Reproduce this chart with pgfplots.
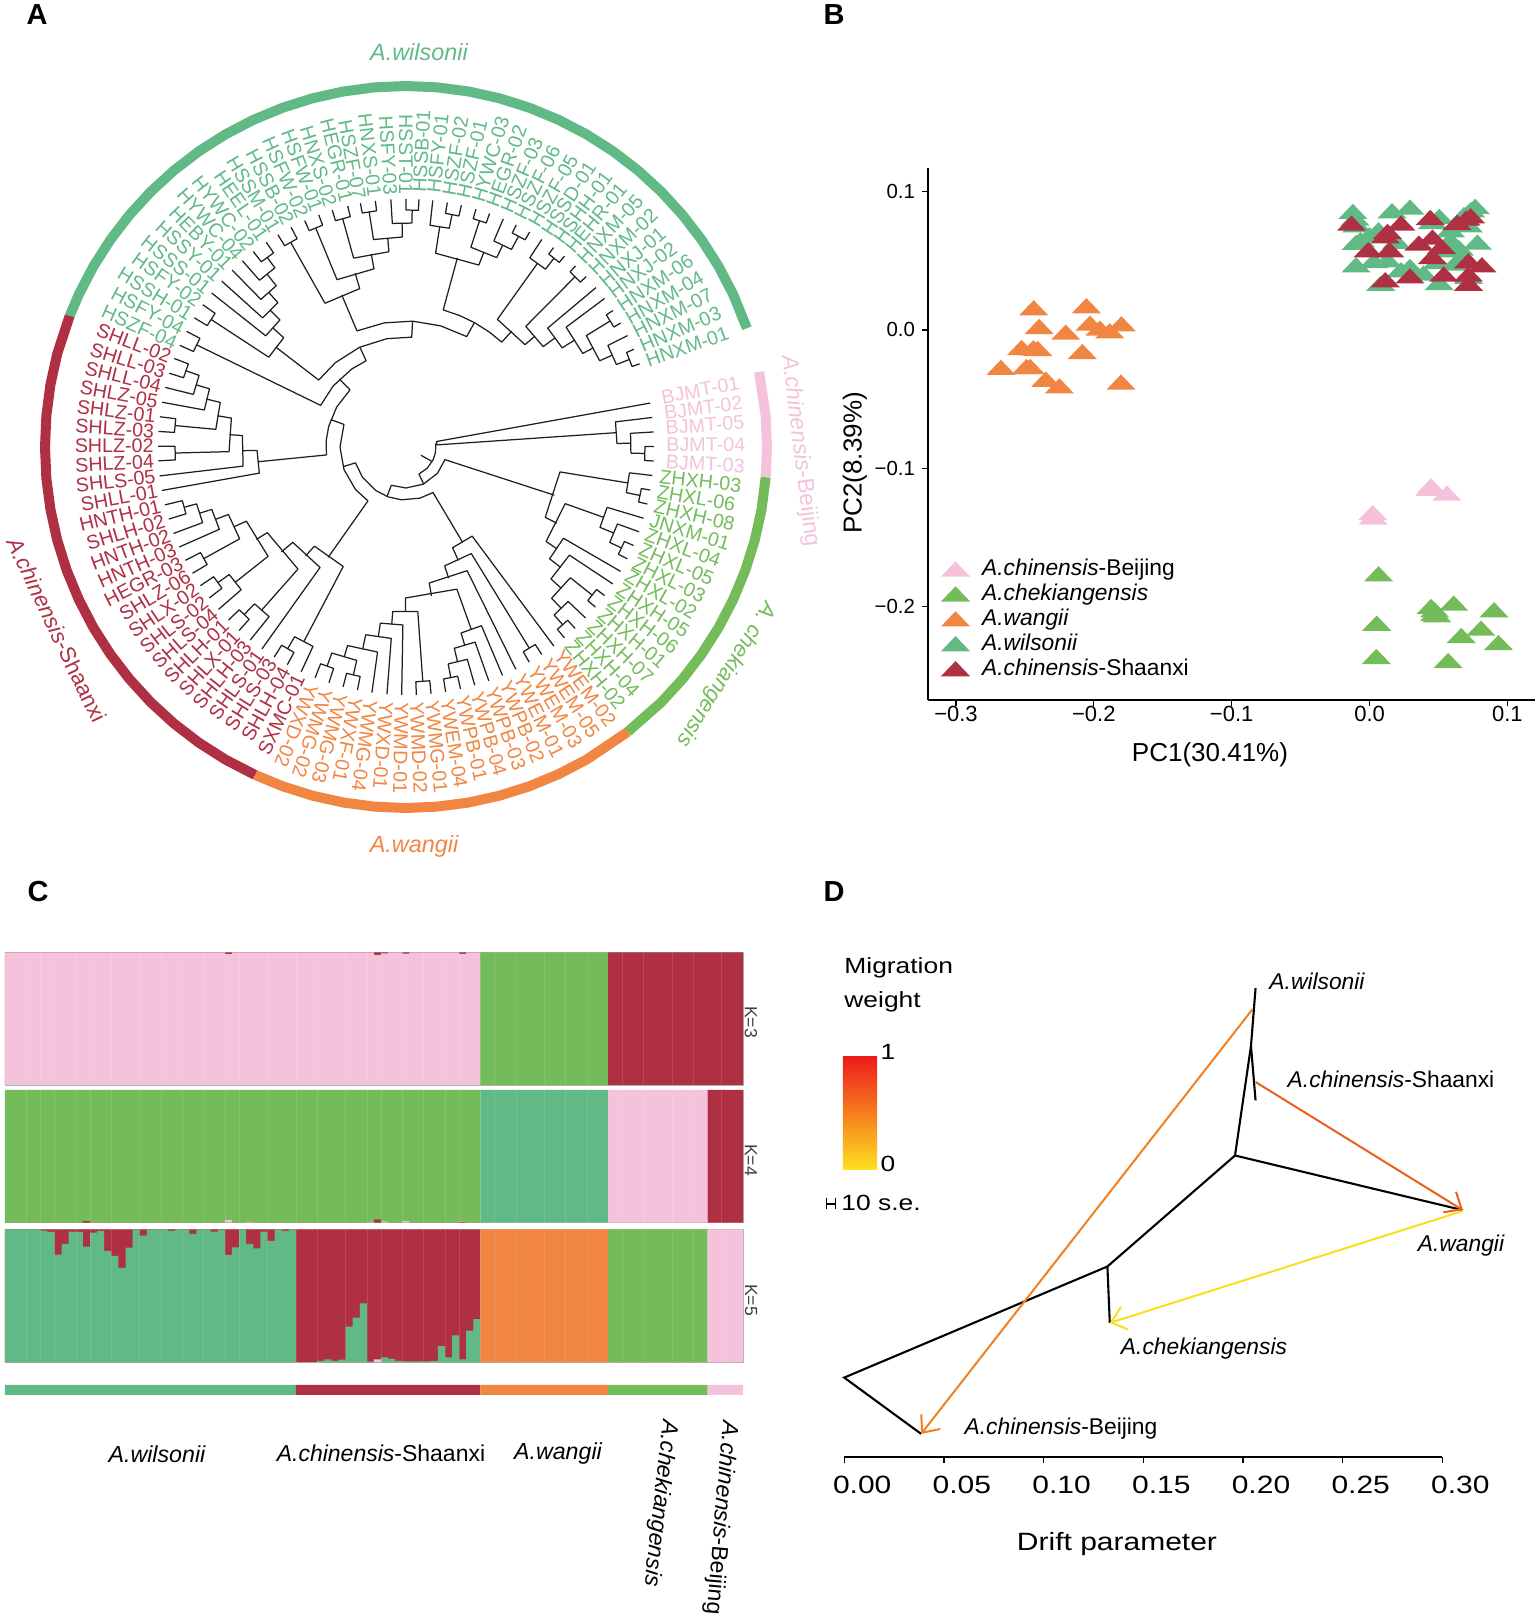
\documentclass[border=0pt]{standalone}
\usepackage{fontspec}
\setmainfont{Liberation Sans}
\newfontfamily\widesans[FakeStretch=1.2]{Liberation Sans}
\usepackage{pgfplots}
\pgfplotsset{compat=1.18}
\usepgfplotslibrary{polar}
\usetikzlibrary{arrows.meta}

\definecolor{wil}{RGB}{97,186,134}
\definecolor{sha}{RGB}{174,48,66}
\definecolor{wan}{RGB}{240,134,66}
\definecolor{che}{RGB}{116,187,90}
\definecolor{bei}{RGB}{244,194,218}

\pgfdeclareplotmark{flattri}{%
  \pgfpathmoveto{\pgfqpoint{-7.3pt}{-3.7pt}}%
  \pgfpathlineto{\pgfqpoint{7.3pt}{-3.7pt}}%
  \pgfpathlineto{\pgfqpoint{0pt}{3.9pt}}%
  \pgfpathclose\pgfusepathqfill}

% one tree node: child 1 (angle, radius), child 2 (angle, radius), own radius
\newcommand\nd[5]{\addplot[treeline] coordinates {(#1,#2)(#1,#5)(#3,#5)(#3,#4)};}
\pgfplotsset{treeline/.style={line width=0.62pt,color=black!88,line join=round,mark=none}}
\newcommand\labfs{\fontsize{9.85}{10}\selectfont}
% tip labels: reading outward / reading inward
\newcommand\lo[3]{\node[rotate=#1,anchor=west,inner sep=0pt,text=#2,font=\labfs] at (axis cs:#1,255) {#3};}
\newcommand\lb[2]{\node[rotate=#1,anchor=west,inner sep=0pt,text=bei,font=\labfs] at (axis cs:#1,260) {#2};}
\newcommand\li[3]{\node[rotate=#1-180,anchor=east,inner sep=0pt,text=#2,font=\labfs] at (axis cs:#1,252) {#3};}
% one block of a bar row, and a row of steps: each value holds up to the next x
\newcommand\seg[3]{\addplot[const plot,fill=#1,draw=none,mark=none] coordinates {(#2,1)(#3,0)} \closedcycle;}
% faint gaps between some of the samples
\newcommand\seams{\addplot[ycomb,white,opacity=.12,line width=.3pt,mark=none] coordinates {(3,1)(5,1)(7,1)(10,1)(12,1)(15,1)(19,1)(22,1)(25,1)(28,1)(31,1)(33,1)(37,1)(41,1)(44,1)(48,1)(51,1)(53,1)(56,1)(59,1)(62,1)(64,1)(69,1)(72,1)(76,1)(79,1)(82,1)(87,1)(90,1)(94,1)(97,1)(101,1)};}
\pgfplotsset{kbar/.style={anchor=south west,scale only axis,width=369.1pt,height=66.35pt,
  xmin=0,xmax=104,ymin=0,ymax=1,ticks=none,
  axis line style={black!30,line width=0.3pt}}}
\pgfplotsset{steps/.style={const plot,draw=none,mark=none,fill=#1}}

\begin{document}
\begin{tikzpicture}
\path[use as bounding box] (0,0) rectangle (767.5pt,807pt);

% ---------- A: circular tree, (angle, radius in px)
\begin{polaraxis}[at={(203pt,583.5pt)},anchor=center,scale only axis,width=400pt,height=400pt,
  xmin=0,xmax=360,ymin=0,ymax=400,hide axis,clip=false]
\addplot[wil,line width=5pt,mark=none] coordinates {(19.2,361)(25,361)(30,361)(35,361)(40,361)(45,361)(50,361)(55,361)(60,361)(65,361)(70,361)(75,361)(80,361)(85,361)(90,361)(95,361)(100,361)(105,361)(110,361)(115,361)(120,361)(125,361)(130,361)(135,361)(140,361)(145,361)(150,361)(155,361)(158.7,361)};
\addplot[sha,line width=5pt,mark=none] coordinates {(158.7,361)(165,361)(170,361)(175,361)(180,361)(185,361)(190,361)(195,361)(200,361)(205,361)(210,361)(215,361)(220,361)(225,361)(230,361)(235,361)(240,361)(245.3,361)};
\addplot[wan,line width=5pt,mark=none] coordinates {(245.3,361)(250,361)(255,361)(260,361)(265,361)(270,361)(275,361)(280,361)(285,361)(290,361)(295,361)(300,361)(307.9,361)};
\addplot[che,line width=5pt,mark=none] coordinates {(307.9,361)(315,361)(320,361)(325,361)(330,361)(335,361)(340,361)(345,361)(350,361)(355.2,361)};
\addplot[bei,line width=5pt,mark=none] coordinates {(355.2,361)(360,361)(365,361)(372,361)};

% Beijing
\nd{.12}{248}{-3.24}{248}{239}
\nd{3.48}{248}{-1.56}{239}{225}
\nd{6.84}{248}{.96}{225}{211}
\nd{10.2}{248}{3.9}{211}{31}
% chekiangensis
\nd{-10}{248}{-13.3}{248}{239}
\nd{-6.6}{248}{-11.7}{239}{225}
\nd{-23.4}{248}{-26.8}{248}{238}
\nd{-20}{248}{-25.1}{238}{225}
\nd{-16.7}{248}{-22.5}{225}{210}
\nd{-36.8}{248}{-40.2}{248}{238}
\nd{-47}{248}{-50.3}{248}{237}
\nd{-43.6}{248}{-48.6}{237}{224}
\nd{-38.5}{238}{-46.1}{224}{210}
\nd{-33.5}{248}{-42.3}{210}{196}
\nd{-30.1}{248}{-37.9}{196}{182}
\nd{-19.6}{210}{-34}{182}{169}
\nd{-9.2}{225}{-26.8}{169}{156}
% wangii
\nd{282.7}{248}{279.2}{248}{235}
\nd{286.1}{248}{281}{235}{221}
\nd{289.5}{248}{283.5}{221}{207}
\nd{292.9}{248}{286.5}{207}{194}
\nd{275.8}{248}{272.4}{248}{235}
\nd{258.7}{248}{255.3}{248}{234}
\nd{251.9}{248}{248.5}{248}{233}
\nd{257}{234}{250.2}{233}{219}
\nd{262.1}{248}{253.6}{219}{207}
\nd{265.6}{248}{257.9}{207}{192}
\nd{269}{248}{261.7}{192}{178}
\nd{274.1}{235}{265.4}{178}{165}
\nd{289.7}{194}{269.8}{165}{151}
\nd{296.3}{248}{279.7}{151}{138}
\nd{303.2}{248}{299.8}{248}{236}
\nd{301.5}{236}{288}{138}{125}
\nd{306.6}{248}{294.8}{125}{111}
% Shaanxi, lower clade
\nd{241.4}{248}{237.9}{248}{234}
\nd{245}{248}{239.6}{234}{220}
\nd{227.7}{248}{224.3}{248}{233}
\nd{231.1}{248}{226}{233}{218}
\nd{217.5}{248}{214}{248}{232}
\nd{220.9}{248}{215.8}{232}{218}
\nd{210.6}{248}{207.2}{248}{231}
\nd{196.9}{248}{193.5}{248}{230}
\nd{200.4}{248}{195.2}{230}{217}
\nd{203.8}{248}{197.8}{217}{204}
\nd{208.9}{231}{200.8}{204}{190}
\nd{218.4}{218}{204.9}{190}{176}
\nd{228.5}{218}{211.7}{176}{163}
\nd{234.5}{248}{220.1}{163}{148}
\nd{242.3}{220}{227.3}{148}{135}
% Shaanxi, upper clade
\nd{162.7}{248}{159.1}{248}{233}
\nd{166.1}{248}{160.9}{233}{219}
\nd{169.6}{248}{163.5}{219}{205}
\nd{176.4}{248}{173}{248}{232}
\nd{174.7}{232}{166.5}{205}{191}
\nd{183.2}{248}{179.8}{248}{231}
\nd{181.5}{231}{170.6}{191}{177}
\nd{186.7}{248}{176}{177}{164}
\nd{190.1}{248}{181.3}{164}{149}
% wilsonii
\nd{155.8}{248}{152.2}{248}{233}
\nd{148.6}{248}{145}{248}{233}
\nd{128}{248}{124.3}{248}{235}
\nd{131.3}{248}{126.2}{235}{222}
\nd{134.5}{248}{128.8}{222}{207}
\nd{138}{248}{131.6}{207}{193}
\nd{141.6}{248}{134.8}{193}{179}
\nd{146.8}{233}{138.2}{179}{164}
\nd{121.1}{248}{117.6}{248}{235}
\nd{114.1}{248}{110.6}{248}{237}
\nd{107.3}{248}{103.6}{248}{237}
\nd{100.6}{248}{97.1}{248}{238}
\nd{90}{248}{87}{248}{237}
\nd{93.5}{248}{88.5}{237}{224}
\nd{91}{224}{98.9}{238}{210}
\nd{105.5}{237}{95}{210}{196}
\nd{112.4}{237}{100.2}{196}{181}
\nd{119.4}{235}{106.3}{181}{165}
\nd{80.4}{248}{77.1}{248}{237}
\nd{83.8}{248}{78.8}{237}{223}
\nd{73.6}{248}{70.3}{248}{238}
\nd{63.6}{248}{60.1}{248}{239}
\nd{66.9}{248}{61.9}{239}{224}
\nd{72}{238}{64.4}{224}{210}
\nd{81.3}{223}{68.2}{210}{196}
\nd{43.4}{248}{46.9}{248}{240}
\nd{50.3}{248}{53.5}{248}{240}
\nd{51.9}{240}{56.8}{248}{226}
\nd{19.6}{248}{23.2}{248}{240}
\nd{21.4}{240}{26.7}{248}{226}
\nd{30}{248}{33.4}{248}{240}
\nd{24}{226}{31.7}{240}{212}
\nd{27.9}{212}{36.8}{248}{200}
\nd{32.4}{200}{40}{248}{185}
\nd{36.2}{185}{45.2}{240}{170}
\nd{40.7}{170}{54.4}{226}{157}
% the deep nodes are drawn as arcs
\addplot[treeline] coordinates {(74.8,196)(74.8,142)(68,142)(61.2,142)(54,142)(47.6,142)(47.6,157)};
\addplot[treeline] coordinates {(112.9,165)(112.9,126)(100,126)(87,126)(74,126)(61.2,126)(61.2,142)};
\addplot[treeline] coordinates {(142.5,164)(142.5,110)(130,110)(115,110)(100,110)(87,110)(87,126)};
\addplot[treeline] coordinates {(154,233)(154,95)(140,95)(125,95)(114.8,95)(114.8,110)};
\addplot[treeline] coordinates {(134.4,95)(134.4,80)(150,80)(165,80)(175,80)(185.7,80)(185.7,149)};
\addplot[treeline] coordinates {(160,80)(160,66)(180,66)(200,66)(220,66)(234.8,66)(234.8,135)};
\addplot[treeline] coordinates {(197.4,66)(197.4,53)(215,53)(235,53)(250,53)(265,53)(285,53)(300.7,53)(300.7,111)};
\addplot[treeline] coordinates {(249,53)(249,41)(270,41)(295,41)(320,41)(342,41)(342,156)};
\addplot[treeline] coordinates {(295.5,41)(295.5,30)(315,30)(335,30)(350,30)(367,30)};
\addplot[treeline] coordinates {(331,30)(331,17)};

\lb{10.9}{BJMT-01}\lb{7.5}{BJMT-02}\lb{4.2}{BJMT-05}\lb{.4}{BJMT-04}\lb{-3.2}{BJMT-03}
\lo{-6.6}{che}{ZHXH-03}\lo{-10}{che}{ZHXL-06}\lo{-13.3}{che}{ZHXH-08}\lo{-16.7}{che}{JNXM-01}\lo{-20}{che}{ZHXL-04}
\lo{-23.4}{che}{ZHXL-05}\lo{-26.8}{che}{ZHXL-03}\lo{-30.1}{che}{ZHXL-02}\lo{-33.5}{che}{ZHXH-05}\lo{-36.8}{che}{ZHXH-06}
\lo{-40.2}{che}{ZHXH-01}\lo{-43.6}{che}{ZHXH-07}\lo{-47}{che}{ZHXH-04}\lo{-50.3}{che}{ZHXH-02}
\lo{306.6}{wan}{YWEM-02}\lo{303.2}{wan}{YWEM-05}\lo{299.8}{wan}{YWEM-03}\lo{296.3}{wan}{YWEM-01}\lo{292.9}{wan}{YWPB-02}
\lo{289.5}{wan}{YWPB-03}\lo{286.1}{wan}{YWPB-04}\lo{282.7}{wan}{YWPB-01}\lo{279.2}{wan}{YWEM-04}\lo{275.8}{wan}{YWMG-01}
\lo{272.4}{wan}{YWMD-02}\lo{269}{wan}{YWMD-01}\lo{265.6}{wan}{YWXD-01}\lo{262.1}{wan}{YWMG-04}\lo{258.7}{wan}{YWXF-01}
\lo{255.3}{wan}{YWMG-03}\lo{251.9}{wan}{YWMG-02}\lo{248.5}{wan}{YWXD-02}
\li{245}{sha}{SXMC-01}\li{241.4}{sha}{SHLH-04}\li{237.9}{sha}{SHLS-03}\li{234.5}{sha}{SHLS-01}\li{231.1}{sha}{SHLH-03}
\li{227.7}{sha}{SHLX-01}\li{224.3}{sha}{SHLH-01}\li{220.9}{sha}{SHLS-04}\li{217.5}{sha}{SHLS-02}\li{214}{sha}{SHLX-02}
\li{210.6}{sha}{SHLZ-06}\li{207.2}{sha}{HEGR-03}\li{203.8}{sha}{HNTH-03}\li{200.4}{sha}{HNTH-02}\li{196.9}{sha}{SHLH-02}
\li{193.5}{sha}{HNTH-01}\li{190.1}{sha}{SHLL-01}\li{186.7}{sha}{SHLS-05}\li{183.2}{sha}{SHLZ-04}\li{179.8}{sha}{SHLZ-02}
\li{176.4}{sha}{SHLZ-03}\li{173}{sha}{SHLZ-01}\li{169.6}{sha}{SHLZ-05}\li{166.1}{sha}{SHLL-04}\li{162.7}{sha}{SHLL-03}\li{159.1}{sha}{SHLL-02}
\lo{19.6}{wil}{HNXM-01}\lo{23.2}{wil}{HNXM-03}\lo{26.7}{wil}{HNXM-07}\lo{30}{wil}{HNXM-04}\lo{33.4}{wil}{HNXM-06}
\lo{36.8}{wil}{HNXJ-02}\lo{40}{wil}{HNXJ-01}\lo{43.4}{wil}{HNXM-02}\lo{46.9}{wil}{HNXM-05}\lo{50.3}{wil}{HEHR-01}
\lo{53.5}{wil}{HSHH-01}\lo{56.8}{wil}{HSSD-01}\lo{60.1}{wil}{HSZF-05}\lo{63.6}{wil}{HSZF-06}\lo{66.9}{wil}{HSZF-03}
\lo{70.3}{wil}{HEGR-02}\lo{73.6}{wil}{HYWC-03}\lo{77.1}{wil}{HSZF-01}\lo{80.4}{wil}{HSZF-02}\lo{83.8}{wil}{HSFY-01}\lo{87}{wil}{HSSB-01}
\li{90}{wil}{HSST-01}\li{93.5}{wil}{HSFY-03}\li{97.1}{wil}{HNXS-01}\li{100.6}{wil}{HSZF-07}\li{103.6}{wil}{HEGR-01}
\li{107.3}{wil}{HNXS-02}\li{110.6}{wil}{HSFW-01}\li{114.1}{wil}{HSFW-02}\li{117.6}{wil}{HSSB-02}\li{121.1}{wil}{HSSM-01}
\li{124.3}{wil}{HEEL-01}\li{128}{wil}{HYWC-02}\li{131.3}{wil}{HYWC-04}\li{134.5}{wil}{HEBY-01}\li{138}{wil}{HSSY-01}
\li{141.6}{wil}{HSSS-01}\li{145}{wil}{HSFY-02}\li{148.6}{wil}{HSSH-01}\li{152.2}{wil}{HSFY-04}\li{155.8}{wil}{HSZF-04}
\end{polaraxis}

% ---------- B: PCA
\begin{axis}[at={(464pt,457pt)},anchor=south west,scale only axis,width=303.5pt,height=266pt,
  xmin=-0.3203,xmax=0.12,ymin=-0.2675,ymax=0.1171,clip=false,
  axis x line=bottom,axis y line=left,axis line style={-,line width=0.65pt},
  tick align=outside,major tick length=3pt,tick style={black,line width=0.6pt},
  xtick={-0.3,-0.2,-0.1,0,0.1},xticklabels={−0.3,−0.2,−0.1,0.0,0.1},
  ytick={-0.2,-0.1,0,0.1},yticklabels={−0.2,−0.1,0.0,0.1},
  xticklabel style={font=\fontsize{11}{11}\selectfont,yshift=3.4pt},
  yticklabel style={font=\fontsize{10.2}{10}\selectfont},
  legend style={at={(axis cs:-0.3112,-0.1627)},anchor=north west,draw=none,fill=none,inner sep=0pt,
    font=\fontsize{11.4}{12}\selectfont,row sep=-1.3pt,
    /tikz/every odd column/.append style={column sep=4pt}},
  legend cell align=left]
\addplot[only marks,mark=flattri,color=bei] coordinates {(.0446,-.1128)(.0440,-.1145)(.0561,-.1181)(.0023,-.1321)(.0026,-.1354)};
\addlegendentry{\textit{A.chinensis}-Beijing}
\addplot[only marks,mark=flattri,color=che] coordinates {(.0065,-.1764)(.0446,-.2000)(.0472,-.2024)(.0489,-.2061)(.0472,-.2050)(.0610,-.1976)(.0903,-.2024)(.0052,-.2121)(.0808,-.2157)(.0665,-.2210)(.0935,-.2261)(.0049,-.2362)(.0570,-.2391)};
\addlegendentry{\textit{A.chekiangensis}}
\addplot[only marks,mark=flattri,color=wan] coordinates {(-.2436,.0159)(-.2054,.0174)(-.2397,.0024)(-.2028,.0048)(-.1956,.0012)(-.1885,-.0007)(-.18,.0043)(-.2204,-.0017)(-.2524,-.0128)(-.2439,-.013)(-.2407,-.0135)(-.2084,-.0157)(-.2674,-.0272)(-.2488,-.0265)(-.2462,-.0265)(-.2348,-.0357)(-.225,-.0405)(-.1803,-.0378)};
\addlegendentry{\textit{A.wangii}}
\addplot[only marks,mark=flattri,color=wil] coordinates {(-.0121,.0856)(-.0105,.0807)(-.0092,.0759)(.0163,.0861)(.0293,.0887)(.0505,.082)(.0766,.0892)(.0733,.0868)(.0684,.0832)(.0456,.0783)(.0717,.0759)(.0587,.0723)(.0065,.0723)(-.0001,.0687)(-.0066,.0651)(-.0098,.0632)(.0195,.0639)(.0782,.0634)(.0587,.0651)(.0652,.0591)(-.0098,.047)(.0032,.0501)(.013,.0506)(.0293,.0458)(.0391,.041)(.0228,.0434)(.0489,.0494)(.0684,.053)(.0619,.0482)(.0505,.0342)(.0081,.0337)(.0717,.0386)(.057,.0578)};
\addlegendentry{\textit{A.wilsonii}}
\addplot[only marks,mark=flattri,color=sha] coordinates {(-.0131,.0771)(.0228,.0771)(.044,.0812)(.0635,.0776)(.0733,.0824)(.07,.0807)(.013,.0711)(.0114,.068)(.0358,.0627)(.0456,.067)(.0521,.0603)(-.001,.0579)(.0146,.0579)(.0456,.053)(.0717,.0499)(.0815,.047)(.0114,.0362)(.0293,.039)(.0538,.0403)(.0717,.0403)(.0717,.0337)};
\addlegendentry{\textit{A.chinensis}-Shaanxi}
\end{axis}

% ---------- C: ancestry bars, K=3
\begin{axis}[kbar,at={(2.425pt,264.5pt)}]
\seg{sha}{0}{67}
\addplot[steps=bei] coordinates {(0,1)(31,.986)(32,1)(52,.98)(53,.992)(54,1)(56,.99)(57,1)(64,.988)(65,1)(67,0)} \closedcycle;
\seg{che}{67}{85}
\seg{sha}{85}{104}
\seams
\end{axis}
% K=4
\begin{axis}[kbar,at={(2.425pt,195.65pt)}]
\seg{che}{0}{67}
\addplot[steps=bei] coordinates {(0,0)(31,.022)(32,0)(34,.006)(35,0)(51,.006)(52,0)(53,.01)(54,0)(56,.012)(57,0)(64,.012)(65,0)(67,0)} \closedcycle;
\addplot[steps=sha] coordinates {(0,0)(11,.012)(12,0)(52,.025)(53,0)(64,.008)(65,0)(67,0)} \closedcycle;
\seg{wil}{67}{85}
\seg{bei}{85}{99}
\seg{sha}{99}{104}
\seams
\end{axis}
% K=5
\begin{axis}[kbar,at={(2.425pt,126pt)}]
\seg{sha}{0}{67}
\addplot[steps=wil] coordinates {(0,1)(5,.99)(6,.98)(7,.81)(8,.89)(9,.982)(10,.98)(11,.87)(12,.975)(13,.988)(14,.837)(15,.8)(16,.71)(17,.862)(18,1)(19,.952)(20,1)(23,.988)(24,1)(26,.965)(27,1)(29,.982)(30,.995)(31,.807)(32,.864)(33,1)(34,.89)(35,.857)(36,.982)(37,.912)(38,1)(39,.988)(40,1)(41,0)(44,.008)(45,.02)(46,.008)(47,.018)(48,.266)(49,.334)(50,.442)(51,.003)(52,0)(53,.035)(54,.023)(55,.008)(56,.005)(60,.008)(61,.12)(62,.035)(63,.2)(64,.02)(65,.236)(66,.324)(67,0)} \closedcycle;
\addplot[steps=bei] coordinates {(52,.02)(53,0)} \closedcycle;
\seg{wan}{67}{85}
\seg{che}{85}{99}
\seg{bei}{99}{104}
\seams
\end{axis}
% sample strip
\begin{axis}[kbar,height=5pt,at={(2.425pt,109.5pt)},hide axis]
\seg{wil}{0}{41}
\seg{sha}{41}{67}
\seg{wan}{67}{85}
\seg{che}{85}{99}
\seg{bei}{99}{104}
\end{axis}

% ---------- D: treemix graph, y is height above the axis in px
\begin{axis}[at={(422.1pt,78.5pt)},anchor=south west,scale only axis,width=299.1pt,height=250pt,
  xmin=0,xmax=0.3,ymin=0,ymax=500,clip=false,
  axis x line=bottom,axis y line=none,axis line style={-,line width=0.8pt},
  tick align=outside,major tick length=3pt,tick style={black,line width=0.7pt},
  xtick={0,0.05,0.1,0.15,0.2,0.25,0.3},xticklabels={0.00,0.05,0.10,0.15,0.20,0.25,0.30},
  xticklabel style={font=\widesans\fontsize{12.5}{13}\selectfont,xshift=9pt,yshift=-3pt}]
\addplot[black,line width=1.05pt,mark=none] coordinates {(.0386,23.1)(0,79.4)(.132,190.5)(.196,301.5)(.204,411)(.2063,468.8)};
\addplot[black,line width=1.05pt,mark=none] coordinates {(.132,190.5)(.1332,134.1)};
\addplot[black,line width=1.05pt,mark=none] coordinates {(.196,301.5)(.3103,246.8)};
\addplot[black,line width=1.05pt,mark=none] coordinates {(.204,411)(.2063,356.6)};
\addplot[color={rgb,255:red,240;green,128;blue,32},line width=1pt,mark=none,-{Straight Barb[length=7pt,width=12pt]}] coordinates {(.2047,447.6)(.0386,23.1)};
\addplot[color={rgb,255:red,232;green,96;blue,28},line width=1pt,mark=none,-{Straight Barb[length=7pt,width=12pt]}] coordinates {(.2063,375)(.3103,246.8)};
\addplot[color={rgb,255:red,248;green,223;blue,31},line width=1pt,mark=none,-{Straight Barb[length=7pt,width=12pt]}] coordinates {(.3103,246)(.1332,134.1)};
% scale mark of 10 s.e.
\addplot[black,line width=0.9pt,mark=none] coordinates {(-.0089,258.5)(-.0089,247.5)};
\addplot[black,line width=0.9pt,mark=none] coordinates {(-.0044,258.5)(-.0044,247.5)};
\addplot[black,line width=0.9pt,mark=none] coordinates {(-.0089,253)(-.0044,253)};
\shade[bottom color={rgb,255:red,255;green,224;blue,32},middle color={rgb,255:red,240;green,120;blue,24},top color={rgb,255:red,237;green,28;blue,28}] (axis cs:-.0007,287.2) rectangle (axis cs:.01645,400);
\end{axis}

% ---------- all other text, placed in px of the reference
\begin{scope}[shift={(0,807pt)},x=.5pt,y=-.5pt,every node/.style={inner sep=0pt}]
\node[font=\bfseries\fontsize{14.5}{15}\selectfont] at (37,15) {A};
\node[font=\bfseries\fontsize{14.5}{15}\selectfont] at (834,15) {B};
\node[font=\bfseries\fontsize{14.5}{15}\selectfont] at (38,892) {C};
\node[font=\bfseries\fontsize{14.5}{15}\selectfont] at (834,892) {D};
\node[font=\fontsize{11.7}{13}\selectfont\itshape,text=wil] at (419,52) {A.wilsonii};
\node[font=\fontsize{11.7}{13}\selectfont\itshape,text=wan] at (414,846) {A.wangii};
\node[font=\fontsize{11.1}{13}\selectfont,text=sha,rotate=-64.5] at (57,630) {\textit{A.chinensis}-Shaanxi};
\node[font=\fontsize{11.4}{13}\selectfont,text=bei,rotate=-83] at (800,451) {\textit{A.chinensis}-Beijing};
\node[font=\fontsize{11}{13}\selectfont\itshape,text=che,rotate=-122] at (726,674) {A. chekiangensis};
\node[font=\fontsize{13}{14}\selectfont] at (1210,755) {PC1(30.41\%)};
\node[font=\fontsize{13}{14}\selectfont,rotate=90] at (855,463) {PC2(8.39\%)};
\node[font=\fontsize{8.8}{9}\selectfont,text=black!75,rotate=-90] at (751,1022) {K=3};
\node[font=\fontsize{8.8}{9}\selectfont,text=black!75,rotate=-90] at (751,1160) {K=4};
\node[font=\fontsize{8.8}{9}\selectfont,text=black!75,rotate=-90] at (751,1300) {K=5};
\node[font=\fontsize{11.6}{13}\selectfont\itshape] at (157,1454) {A.wilsonii};
\node[font=\fontsize{11.5}{13}\selectfont] at (381,1453) {\textit{A.chinensis}-Shaanxi};
\node[font=\fontsize{11.6}{13}\selectfont\itshape] at (558,1454) {A.wangii};
\node[font=\fontsize{11.5}{13}\selectfont\itshape,rotate=-96.4] at (660,1503) {A.chekiangensis};
\node[font=\fontsize{11.5}{13}\selectfont,rotate=-95] at (721,1518) {\textit{A.chinensis}-Beijing};
\node[font=\widesans\fontsize{11}{12}\selectfont,anchor=west] at (844,968) {Migration};
\node[font=\widesans\fontsize{11}{12}\selectfont,anchor=west] at (844,1002) {weight};
\node[font=\widesans\fontsize{11}{12}\selectfont] at (888,1052) {1};
\node[font=\widesans\fontsize{11}{12}\selectfont] at (888,1164) {0};
\node[font=\widesans\fontsize{11}{12}\selectfont,anchor=west] at (841,1203) {10 s.e.};
\node[font=\widesans\fontsize{12.5}{13}\selectfont] at (1117,1544) {Drift parameter};
\node[font=\fontsize{11.4}{12}\selectfont\itshape] at (1317,981) {A.wilsonii};
\node[font=\fontsize{11.4}{12}\selectfont] at (1391,1079) {\textit{A.chinensis}-Shaanxi};
\node[font=\fontsize{11.4}{12}\selectfont\itshape] at (1461,1246) {A.wangii};
\node[font=\fontsize{11.4}{12}\selectfont\itshape] at (1204,1349) {A.chekiangensis};
\node[font=\fontsize{11.4}{12}\selectfont] at (1061,1429) {\textit{A.chinensis}-Beijing};
\end{scope}
\end{tikzpicture}
\end{document}
